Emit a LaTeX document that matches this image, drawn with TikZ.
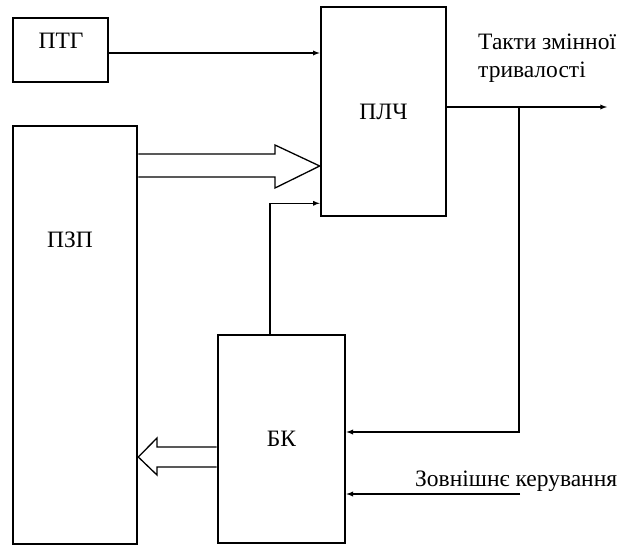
\documentclass[tikz,border=0pt]{standalone}
\usepackage{fontspec}
\setmainfont{Liberation Serif}
\begin{document}
\begin{tikzpicture}[x=1pt,y=-1pt]
% Styles
\tikzstyle{fleche}=[->,>=latex,line width=1.3pt]
\tikzstyle{bloc}=[draw,line width=2.6pt,inner sep=0pt]
\tikzstyle{texte}=[inner sep=0pt,font=\fontsize{23.5}{28}\selectfont]
\tikzstyle{bus}=[line width=1.3pt,line join=miter]
\useasboundingbox (0,0) rectangle (623,547);
% Blocs
\node[bloc,minimum width=95pt,minimum height=64pt] (ptg) at (60.5,50) {};
\node[bloc,minimum width=124pt,minimum height=418pt] (pzp) at (75,335) {};
\node[bloc,texte,minimum width=125pt,minimum height=209pt] (plch) at (383.5,111.5) {ПЛЧ};
\node[bloc,texte,minimum width=127pt,minimum height=208pt] (bk) at (281.5,439) {БК};
% Etiquettes
\node[texte] (ptgtxt) at (61,41) {ПТГ};
\node[texte] (pzptxt) at (70,240) {ПЗП};
\node[texte,anchor=west,align=left] (takty) at (478,58) {Такти змінної\\тривалості};
\node[texte,anchor=west] (zovn) at (415,481) {Зовнішнє керування};
% Points libres
\coordinate (sortie) at (607,107);
\coordinate (branche) at (519,107);
\coordinate (externe) at (520,494);
% Arcs
\draw[fleche] ([yshift=-3pt]ptg.east) -- ([yshift=-3pt]ptg.east -| plch.west);
\draw[fleche] ([xshift=-11.5pt]bk.north) |- ([yshift=14pt]plch.south west);
\draw[fleche] ([yshift=4.5pt]plch.east) -- (sortie);
\draw[fleche] (branche) |- ([yshift=7pt]bk.east);
\draw[fleche] (externe) -- (externe -| bk.east);
% Bus
\draw[bus] ([yshift=181pt]pzp.east) -- (275,154) -- (275,145) -- (plch.west |- 0,166)
  -- (275,188) -- (275,177) -- ([yshift=158pt]pzp.east);
\draw[bus] ([yshift=-8pt]bk.west) -- (157,447) -- (157,438) -- (pzp.east |- 0,457)
  -- (157,475) -- (157,467) -- ([yshift=-28pt]bk.west);
\end{tikzpicture}
\end{document}
